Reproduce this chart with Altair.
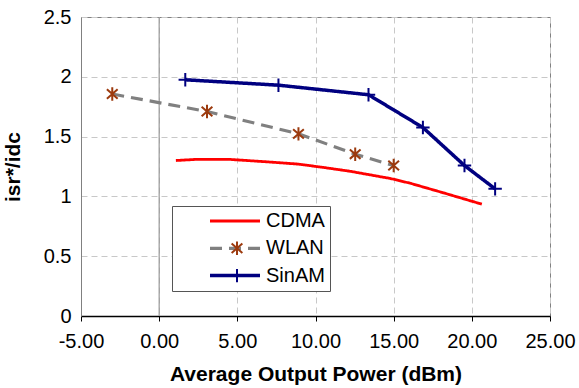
import altair as alt
import pandas as pd

# ---- data ----
series_names = ["CDMA", "WLAN", "SinAM"]
marker_keys = ["m-CDMA", "m-WLAN", "m-SinAM"]

cdma_x = [1.07, 2.42, 4.44, 6.78, 8.91, 10.62, 12.22, 14.78, 16.06, 18.18, 20.64]
cdma_y = [1.30, 1.31, 1.31, 1.29, 1.27, 1.24, 1.21, 1.15, 1.11, 1.03, 0.935]

wlan_x = [-3.0, 3.06, 8.91, 12.54, 15.0]
wlan_y = [1.856, 1.71, 1.523, 1.353, 1.258]

sinam_x = [1.67, 7.63, 13.39, 16.87, 19.53, 21.49]
sinam_y = [1.975, 1.93, 1.85, 1.576, 1.258, 1.063]

x_ticks = [-5, 0, 5, 10, 15, 20, 25]
y_ticks = [0, 0.5, 1, 1.5, 2, 2.5]

line_colors = ["#FF0000", "#808080", "#000080"]
marker_colors = ["transparent", "#9C3A0E", "#000080"]
dashes = [[1, 0], [12, 7], [1, 0]]
widths = [2.8, 3.5, 2.6]
CROSS = "M-1,0L1,0M0,-1L0,1"
STAR = "M0,-1L0,1M-0.8,-0.7L0.8,0.7M-0.8,0.7L0.8,-0.7"
shapes = ["M0,0", STAR, CROSS]

rows = []
for name, key, xs, ys in [("CDMA", "m-CDMA", cdma_x, cdma_y),
                          ("WLAN", "m-WLAN", wlan_x, wlan_y),
                          ("SinAM", "m-SinAM", sinam_x, sinam_y)]:
    for i, (a, b) in enumerate(zip(xs, ys)):
        rows.append({"series": name, "marker": key, "x": a, "y": b, "order": i})
df = pd.DataFrame(rows)
df_markers = df[df["series"] != "CDMA"]

FONT = "Liberation Sans"

x_enc = alt.X(
    "x:Q",
    scale=alt.Scale(domain=[-5, 25], nice=False, zero=False),
    axis=alt.Axis(
        values=x_ticks,
        labelExpr="replace(format(datum.value, '.2f'), '\u2212', '-')",
        title="Average Output Power (dBm)",
        titleFont=FONT, titleFontSize=21, titleFontWeight="bold", titleColor="black",
        titlePadding=12,
        labelFont=FONT, labelFontSize=20, labelColor="black", labelPadding=10,
        domainColor="black", domainWidth=1.5,
        tickColor="black", tickSize=5, tickWidth=1,
        grid=True, gridDash=[6, 4], gridColor="#C8C8C8", gridWidth=1,
        labelFlush=False, labelOverlap=False,
    ),
)
y_enc = alt.Y(
    "y:Q",
    scale=alt.Scale(domain=[0, 2.5], nice=False),
    axis=alt.Axis(
        values=y_ticks,
        format="~g",
        title="isr*/idc",
        titleFont=FONT, titleFontSize=21, titleFontWeight="bold", titleColor="black",
        titlePadding=20,
        labelFont=FONT, labelFontSize=20, labelColor="black", labelPadding=10,
        domainColor="#808080", domainWidth=1,
        ticks=False,
        grid=True, gridDash=[6, 4], gridColor="#C8C8C8", gridWidth=1,
        labelFlush=False, labelOverlap=False,
    ),
)

legend_common = dict(
    orient="none", legendX=91, legendY=189, title=None,
    padding=5, clipHeight=20, rowPadding=7.3,
    labelFont=FONT, labelFontSize=20, labelOffset=4,
)

line_legend = alt.Legend(
    symbolType="stroke", symbolSize=2500, symbolStrokeWidth=3,
    symbolOffset=31, labelColor="black",
    strokeColor="#555555", fillColor="white",
    labelExpr="datum.label + '\u00a0\u00a0\u00a0\u00a0\u00a0\u00a0'",
    **legend_common,
)
marker_legend = alt.Legend(
    symbolSize=180, symbolStrokeWidth=2, symbolOffset=50,
    labelColor="transparent", symbolFillColor="transparent",
    **legend_common,
)

zero_rule = alt.Chart(pd.DataFrame({"x": [0]})).mark_rule(color="#999999", strokeWidth=1.2).encode(x="x:Q")

lines = alt.Chart(df).mark_line().encode(
    x=x_enc,
    y=y_enc,
    order="order:Q",
    color=alt.Color("series:N", scale=alt.Scale(domain=series_names, range=line_colors), legend=line_legend),
    strokeDash=alt.StrokeDash("series:N", scale=alt.Scale(domain=series_names, range=dashes), legend=line_legend),
    strokeWidth=alt.StrokeWidth("series:N", scale=alt.Scale(domain=series_names, range=widths), legend=None),
)

points = alt.Chart(df_markers).mark_point(filled=False, size=180, strokeWidth=2, opacity=1).encode(
    x="x:Q",
    y="y:Q",
    shape=alt.Shape("marker:N", scale=alt.Scale(domain=marker_keys, range=shapes), legend=marker_legend),
    stroke=alt.Stroke("marker:N", scale=alt.Scale(domain=marker_keys, range=marker_colors), legend=marker_legend),
)

chart = (
    alt.layer(zero_rule, lines, points)
    .properties(
        width=469, height=299,
        autosize=alt.AutoSizeParams(type="none"),
        padding={"left": 81, "top": 17, "right": 29, "bottom": 72},
        background="white",
    )
    .configure_view(stroke="#808080", strokeWidth=1)
)

chart.save("out.html", embed_options={"renderer": "svg", "actions": False})
